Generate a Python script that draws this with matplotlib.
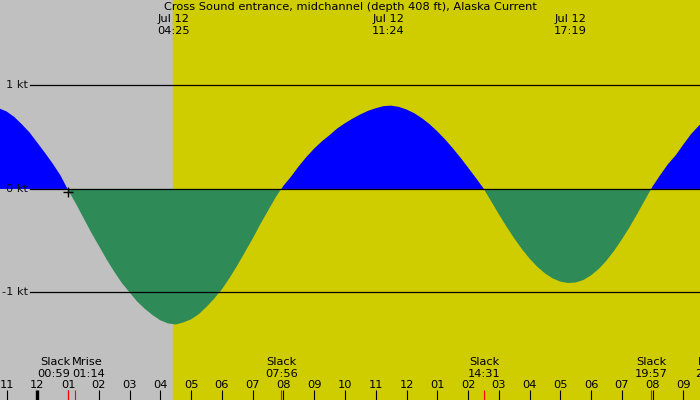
import numpy as np
import matplotlib
matplotlib.use('Agg')
import matplotlib.pyplot as plt
import matplotlib.transforms as mtransforms

# current speed (kt) every 15 min, hours after midnight Jul 12
hours = [-1.25, -1.0, -0.75, -0.5, -0.25, 0.0, 0.25, 0.5, 0.75, 1.0,
         1.25, 1.5, 1.75, 2.0, 2.25, 2.5, 2.75, 3.0, 3.25, 3.5, 3.75, 4.0, 4.25, 4.5,
         4.75, 5.0, 5.25, 5.5, 5.75, 6.0, 6.25, 6.5, 6.75, 7.0, 7.25, 7.5, 7.75, 8.0,
         8.25, 8.5, 8.75, 9.0, 9.25, 9.5, 9.75, 10.0, 10.25, 10.5, 10.75, 11.0, 11.25, 11.5,
         11.75, 12.0, 12.25, 12.5, 12.75, 13.0, 13.25, 13.5, 13.75, 14.0, 14.25, 14.5,
         14.75, 15.0, 15.25, 15.5, 15.75, 16.0, 16.25, 16.5, 16.75, 17.0, 17.25, 17.5,
         17.75, 18.0, 18.25, 18.5, 18.75, 19.0, 19.25, 19.5, 19.75, 20.0,
         20.25, 20.5, 20.75, 21.0, 21.25, 21.5, 21.75]
speed = [0.78, 0.749, 0.696, 0.624, 0.545, 0.447, 0.348, 0.245, 0.132, -0.01,
         -0.14, -0.28, -0.42, -0.55, -0.68, -0.80, -0.91, -1.00, -1.09, -1.16, -1.22, -1.27, -1.30, -1.31,
         -1.29, -1.26, -1.21, -1.14, -1.06, -0.97, -0.86, -0.74, -0.61, -0.48, -0.34, -0.21, -0.08, 0.03,
         0.12, 0.22, 0.31, 0.39, 0.46, 0.52, 0.585, 0.635, 0.68, 0.72, 0.755, 0.78, 0.80, 0.805,
         0.793, 0.768, 0.732, 0.684, 0.626, 0.557, 0.48, 0.395, 0.304, 0.207, 0.108, 0.007,
         -0.119, -0.244, -0.364, -0.477, -0.581, -0.673, -0.752, -0.816, -0.864, -0.896, -0.909, -0.905,
         -0.88, -0.835, -0.773, -0.693, -0.597, -0.488, -0.37, -0.241, -0.108, 0.025,
         0.135, 0.24, 0.325, 0.43, 0.53, 0.61, 0.68]

# hour ticks along the bottom
tick_hours = list(range(-1, 22))
tick_labels = ['11', '12', '01', '02', '03', '04', '05', '06', '07', '08', '09', '10',
               '11', '12', '01', '02', '03', '04', '05', '06', '07', '08', '09']

# bottom events
event_names = ['Slack', 'Mrise', 'Slack', 'Slack', 'Slack', 'Mset']
event_times = ['00:59', '01:14', '07:56', '14:31', '19:57', '21:54']
event_hours = [0.983, 1.233, 7.933, 14.517, 19.95, 21.9]

# top labels
top_dates = ['Jul 12', 'Jul 12', 'Jul 12']
top_times = ['04:25', '11:24', '17:19']
top_hours = [4.417, 11.4, 17.317]

sunrise = 4.417
kt_levels = [1, 0, -1]
kt_labels = ['1 kt', '0 kt', '-1 kt']

title = 'Cross Sound entrance, midchannel (depth 408 ft), Alaska Current'

fs = 8.2
fig = plt.figure(figsize=(7, 4), dpi=100)
ax = fig.add_axes([0, 0, 1, 1])
x0, x1 = -1.213, 21.54
ax.set_xlim(x0, x1)
ax.set_ylim(-2.04, 1.826)
ax.axis('off')

# night / day background
ax.axvspan(x0, sunrise, color='#c0c0c0', zorder=0)
ax.axvspan(sunrise, x1, color='#cfcc00', zorder=0)

t = np.array(hours)
v = np.array(speed)
ax.fill_between(t, 0, v, where=v >= 0, interpolate=True, color='#0000ff', lw=0, zorder=1)
ax.fill_between(t, 0, v, where=v <= 0, interpolate=True, color='#2e8b57', lw=0, zorder=1)

ytrans = mtransforms.blended_transform_factory(ax.transAxes, ax.transData)
for lev, lab in zip(kt_levels, kt_labels):
       ax.axhline(lev, xmin=30 / 700, xmax=1, color='black', lw=0.9, zorder=2)
       ax.text(28 / 700, lev, lab, transform=ytrans, ha='right', va='center', fontsize=fs, color='#111111', zorder=3)

# plus marker at first slack
ax.plot([event_hours[0]], [-0.03], marker='+', color='black', ms=7, mew=1, zorder=3)

trans = mtransforms.blended_transform_factory(ax.transData, ax.transAxes)

ax.text(0.5, 1 - 7 / 400, title, transform=ax.transAxes, ha='center', va='center', fontsize=fs)
for h, d, tm in zip(top_hours, top_dates, top_times):
       ax.text(h, 1 - 19 / 400, d, transform=trans, ha='center', va='center', fontsize=fs)
       ax.text(h, 1 - 31 / 400, tm, transform=trans, ha='center', va='center', fontsize=fs)

# hour ticks
for h, lab in zip(tick_hours, tick_labels):
       lw = 2.4 if h == 0 else 0.8
       ax.plot([h, h], [0, 10 / 400], transform=trans, color='black', lw=lw, solid_capstyle='butt', zorder=3)
       ax.text(h, 15 / 400, lab, transform=trans, ha='center', va='center', fontsize=fs)

# events (the first two sit close, so push their labels apart)
for i, (nm, tm, h) in enumerate(zip(event_names, event_times, event_hours)):
       ax.plot([h, h], [0, 10 / 400], transform=trans, color='red', lw=0.8, solid_capstyle='butt', zorder=4)
       ha = 'center'
       if i < 2:
              h = (event_hours[0] + event_hours[1]) / 2
              ha = 'right' if i == 0 else 'left'
              h = h - 0.03 if i == 0 else h + 0.03
       ax.text(h, 38 / 400, nm, transform=trans, ha=ha, va='center', fontsize=fs)
       ax.text(h, 26 / 400, tm, transform=trans, ha=ha, va='center', fontsize=fs)

fig.savefig('out.png', dpi=100)
